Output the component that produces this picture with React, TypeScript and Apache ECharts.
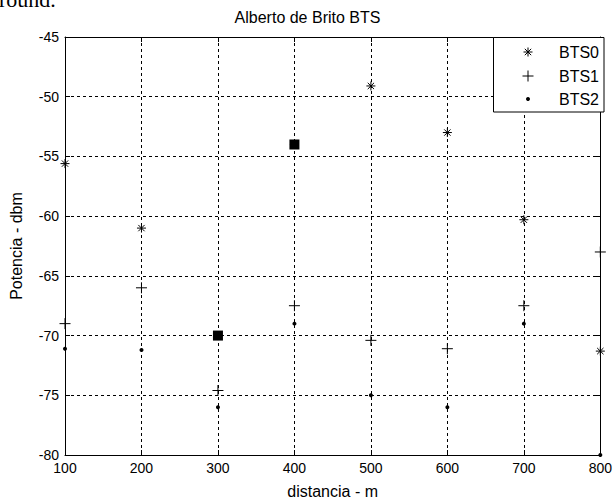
import React, { useEffect, useRef } from "react";
import * as echarts from "echarts";

const distances = [100, 200, 300, 400, 500, 600, 700, 800];
const bts0 = [-55.6, -61.0, -70.0, -54.0, -49.1, -53.0, -60.3, -71.3];
const bts1 = [-69.0, -66.0, -74.6, -67.5, -70.4, -71.1, -67.5, -63.0];
const bts2 = [-71.1, -71.2, -76.0, -69.0, -75.0, -76.0, -69.0, -80.0];
const markedX = [300, 400];
const markedY = [-70, -54];
const seriesNames = ["BTS0", "BTS1", "BTS2"];
const titleText = "Alberto de Brito BTS";
const xName = "distancia - m";
const yName = "Potencia - dbm";

const FONT = "Liberation Sans, Arial, sans-serif";
const ASTERISK = "path://M0,-5L0,5M-5,0L5,0M-3.5,-3.5L3.5,3.5M-3.5,3.5L3.5,-3.5";
const PLUS = "path://M0,-5.5L0,5.5M-5.5,0L5.5,0";

const pairs = (xs: number[], ys: number[]) => xs.map((x, i) => [x, ys[i]]);

export default function App() {
  const ref = useRef<HTMLDivElement>(null);
  useEffect(() => {
    if (!ref.current) return;
    const chart = echarts.init(ref.current, null, { renderer: "svg" });
    const axisCommon = {
      type: "value" as const,
      axisLine: { show: true, lineStyle: { color: "#000", width: 1 } },
      axisTick: { show: true, inside: true, length: 5, lineStyle: { color: "#000" } },
    };
    const lx = 528;
    const legendRows = [52, 76, 99];
    const ls = { stroke: "#000", lineWidth: 1 };
    chart.setOption({
      animation: false,
      backgroundColor: "#fff",
      title: {
        text: titleText,
        left: "center",
        top: 9,
        padding: 0,
        textStyle: { fontFamily: FONT, fontSize: 16, fontWeight: "normal", color: "#000" },
      },
      grid: { left: 64, right: 12, top: 37, bottom: 43 },
      xAxis: [
        {
          ...axisCommon,
          position: "bottom",
          min: 100,
          max: 800,
          interval: 100,
          name: xName,
          nameLocation: "middle",
          nameGap: 28,
          nameTextStyle: { fontFamily: FONT, fontSize: 16, color: "#000" },
          axisLabel: { color: "#000", fontFamily: FONT, fontSize: 14, margin: 6 },
          splitLine: { show: true, lineStyle: { color: "#000", type: [3, 3], width: 1 } },
        },
        {
          ...axisCommon,
          position: "top",
          min: 100,
          max: 800,
          interval: 100,
          axisLabel: { show: false },
          splitLine: { show: false },
        },
      ],
      yAxis: [
        {
          ...axisCommon,
          position: "left",
          min: -80,
          max: -45,
          interval: 5,
          name: yName,
          nameLocation: "middle",
          nameGap: 41,
          nameTextStyle: { fontFamily: FONT, fontSize: 16, color: "#000" },
          axisLabel: { color: "#000", fontFamily: FONT, fontSize: 14, margin: 6 },
          splitLine: { show: true, lineStyle: { color: "#000", type: [3, 3], width: 1 } },
        },
        {
          ...axisCommon,
          position: "right",
          min: -80,
          max: -45,
          interval: 5,
          axisLabel: { show: false },
          splitLine: { show: false },
        },
      ],
      series: [
        {
          name: seriesNames[0],
          type: "scatter",
          data: pairs(distances, bts0),
          symbol: ASTERISK,
          symbolSize: 9,
          itemStyle: { color: "rgba(0,0,0,0)", borderColor: "#000", borderWidth: 1, opacity: 1 },
          z: 3,
        },
        {
          name: seriesNames[1],
          type: "scatter",
          data: pairs(distances, bts1),
          symbol: PLUS,
          symbolSize: 11,
          itemStyle: { color: "rgba(0,0,0,0)", borderColor: "#000", borderWidth: 1, opacity: 1 },
          z: 3,
        },
        {
          name: seriesNames[2],
          type: "scatter",
          data: pairs(distances, bts2),
          symbol: "circle",
          symbolSize: 4,
          itemStyle: { color: "#000", opacity: 1 },
          z: 3,
        },
        {
          name: "marked",
          type: "scatter",
          data: pairs(markedX, markedY),
          symbol: "rect",
          symbolSize: 10,
          itemStyle: { color: "#000", opacity: 1 },
          z: 4,
        },
      ],
      graphic: [
        {
          type: "text",
          left: -1,
          top: -12,
          style: {
            text: "round.",
            font: "22px 'Liberation Serif', 'Times New Roman', serif",
            fill: "#000",
          },
        },
        {
          type: "rect",
          shape: { x: 493.5, y: 37.5, width: 110.5, height: 74.5 },
          style: { fill: "#fff", stroke: "#000", lineWidth: 1 },
          z: 10,
        },
        { type: "line", z: 11, shape: { x1: lx, y1: legendRows[0] - 4.5, x2: lx, y2: legendRows[0] + 4.5 }, style: ls },
        { type: "line", z: 11, shape: { x1: lx - 4.5, y1: legendRows[0], x2: lx + 4.5, y2: legendRows[0] }, style: ls },
        { type: "line", z: 11, shape: { x1: lx - 3.2, y1: legendRows[0] - 3.2, x2: lx + 3.2, y2: legendRows[0] + 3.2 }, style: ls },
        { type: "line", z: 11, shape: { x1: lx - 3.2, y1: legendRows[0] + 3.2, x2: lx + 3.2, y2: legendRows[0] - 3.2 }, style: ls },
        { type: "line", z: 11, shape: { x1: lx, y1: legendRows[1] - 5.5, x2: lx, y2: legendRows[1] + 5.5 }, style: ls },
        { type: "line", z: 11, shape: { x1: lx - 5.5, y1: legendRows[1], x2: lx + 5.5, y2: legendRows[1] }, style: ls },
        { type: "circle", z: 11, shape: { cx: lx, cy: legendRows[2], r: 2 }, style: { fill: "#000" } },
        ...seriesNames.map((n, i) => ({
          type: "text",
          z: 11,
          x: 559,
          y: legendRows[i],
          style: {
            text: n,
            font: `16px ${FONT}`,
            fill: "#000",
            verticalAlign: "middle",
            align: "left",
          },
        })),
      ],
    });
    return () => chart.dispose();
  }, []);
  return (
    <div
      ref={ref}
      style={{ position: "absolute", left: 0, top: 0, width: 615, height: 504 }}
    />
  );
}
